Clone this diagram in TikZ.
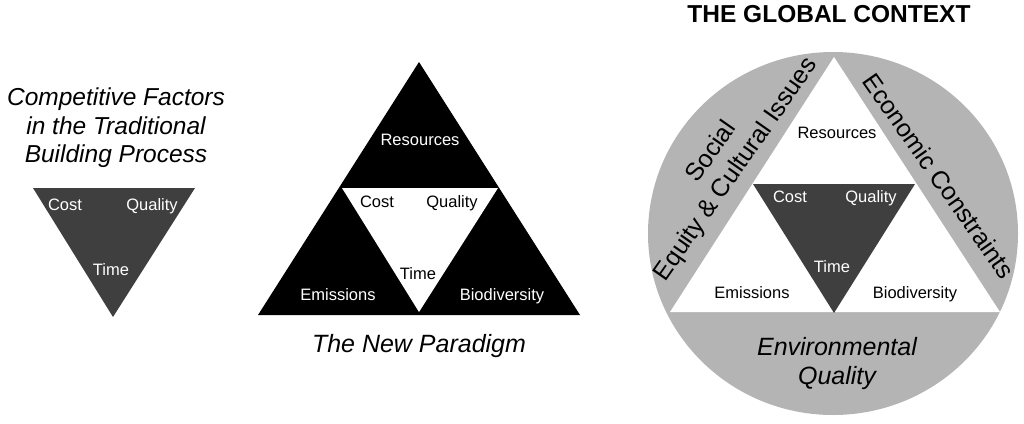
\documentclass[tikz,border=0pt]{standalone}
\usepackage{fontspec}
\setmainfont{Liberation Sans}
\definecolor{darkgr}{HTML}{3F3F3F}
\definecolor{ringgr}{HTML}{B4B4B4}
\tikzset{
  small/.style={font=\fontsize{16.5pt}{19pt}\selectfont, text height=12pt, text depth=3.5pt, inner sep=0pt},
  wlab/.style={small, text=white},
  blab/.style={small, text=black},
  big/.style={font=\fontsize{25pt}{29pt}\selectfont\itshape, align=center, inner sep=0pt},
  bigup/.style={font=\fontsize{25pt}{30pt}\selectfont, align=center, inner sep=0pt},
}
\begin{document}
\begin{tikzpicture}[x=1pt,y=-1pt]
\useasboundingbox (0,0) rectangle (1024,423);
% ---------- left ----------
\node[big, font=\fontsize{24.5pt}{28.5pt}\selectfont\itshape] (ttl1) at (116,128) {Competitive Factors\\in the Traditional\\Building Process};
\fill[darkgr] (33,188) -- (195,188) -- (113,317) -- cycle;
\node[wlab] (c1) at (65,206) {Cost};
\node[wlab] (q1) at (152,206) {Quality};
\node[wlab] (t1) at (111,271) {Time};
% ---------- middle ----------
\fill[black] (419,62) -- (258,315) -- (580,315) -- cycle;
\fill[white] (342,188) -- (498,188) -- (419,312) -- cycle;
\node[wlab] (r2) at (420,141) {Resources};
\node[blab] (c2) at (377,203) {Cost};
\node[blab] (q2) at (452,203) {Quality};
\node[blab] (t2) at (418,275) {Time};
\node[wlab] (e2) at (338,296) {Emissions};
\node[wlab] (b2) at (502,296) {Biodiversity};
\node[big] (ttl2) at (419,346) {The New Paradigm};
% ---------- right ----------
\node[font=\fontsize{24.5pt}{28pt}\selectfont\bfseries, inner sep=0pt] (ttl3) at (829,14) {THE GLOBAL CONTEXT};
\fill[ringgr] (833,233.5) ellipse [x radius=185pt, y radius=181.5pt];
\fill[white] (834,57) -- (670,312) -- (1000,312) -- cycle;
\fill[darkgr] (753,184) -- (915,184) -- (834,313) -- cycle;
\node[blab] (r3) at (837,134) {Resources};
\node[wlab] (c3) at (790,198) {Cost};
\node[wlab] (q3) at (871,198) {Quality};
\node[wlab] (t3) at (832,268) {Time};
\node[blab] (e3) at (752,294) {Emissions};
\node[blab] (b3) at (915,294) {Biodiversity};
\node[bigup, rotate=55] (soc) at (724,161) {Social\\Equity \& Cultural Issues};
\node[bigup, rotate=-55] (eco) at (939,176) {Economic Constraints};
\node[big] (env) at (837,364) {Environmental\\Quality};
\end{tikzpicture}
\end{document}
